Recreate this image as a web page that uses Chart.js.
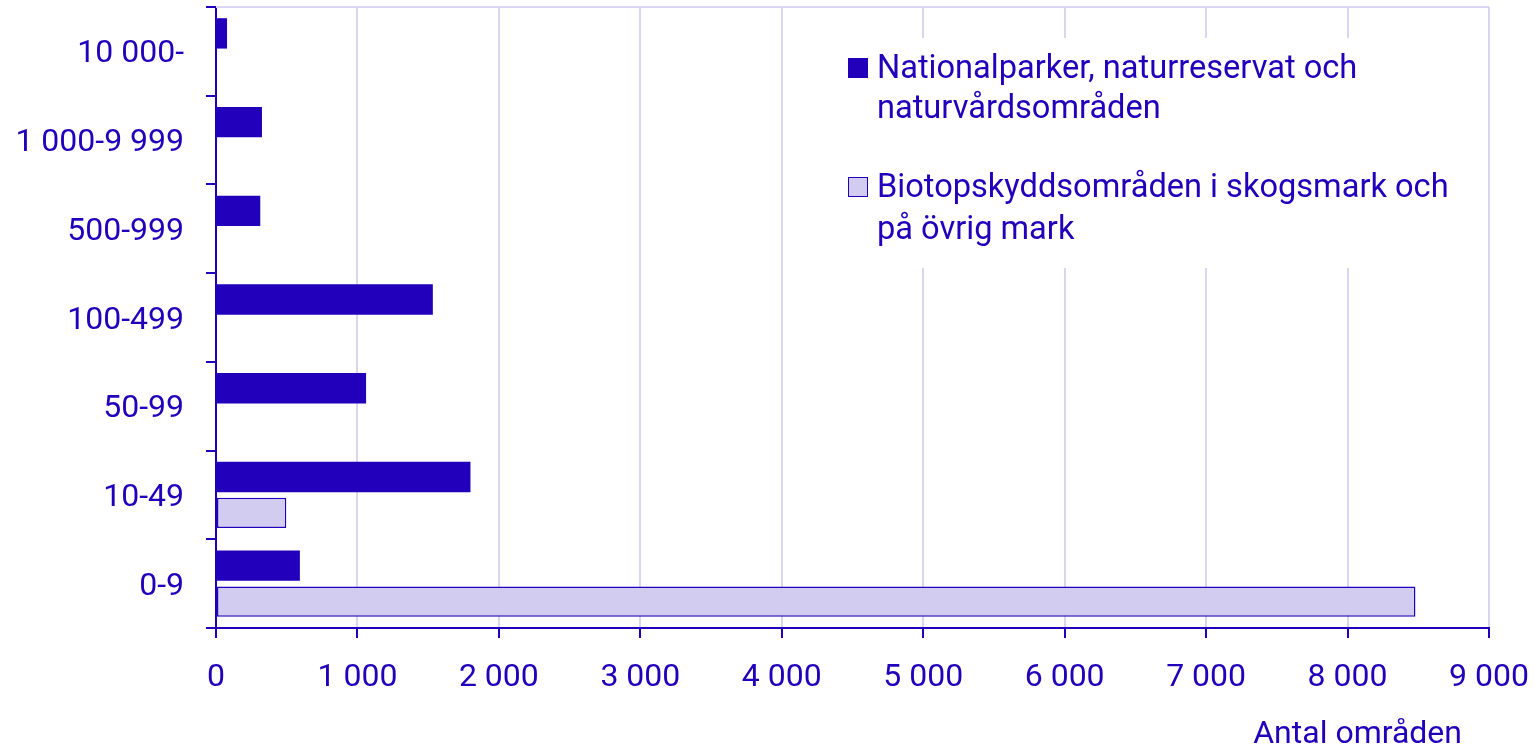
<!DOCTYPE html>
<html>
<head>
<meta charset="utf-8">
<script src="https://cdn.jsdelivr.net/npm/chart.js@4/dist/chart.umd.min.js"></script>
<style>
  html, body { margin: 0; padding: 0; background: #ffffff; }
  #wrap { width: 1534px; height: 749px; position: relative; }
</style>
</head>
<body>
<div id="wrap"><canvas id="c" width="1534" height="749"></canvas></div>
<script>
const categories = ['10 000-', '1 000-9 999', '500-999', '100-499', '50-99', '10-49', '0-9'];
const nationalparker = [78, 325, 313, 1533, 1061, 1799, 593];
const biotopskydd = [null, null, null, null, null, 497, 8480];
const legendLines1 = ['Nationalparker, naturreservat och', 'naturvårdsområden'];
const legendLines2 = ['Biotopskyddsområden i skogsmark och', 'på övrig mark'];
const xTitle = 'Antal områden';
const xMin = 0, xMax = 9000, xStep = 1000;

const DARK = '#2200bb';
const LIGHT = '#d2cdf0';
const GRID = '#d9d6f2';
const FONT = 'Roboto';
const FS = 32;

function fmt(v) {
  return String(v).replace(/\B(?=(\d{3})+(?!\d))/g, ' ');
}

const extras = {
  id: 'extras',
  beforeDatasetsDraw(chart) {
    const { ctx, chartArea } = chart;
    ctx.save();
    ctx.strokeStyle = GRID;
    ctx.lineWidth = 2;
    ctx.beginPath();
    ctx.moveTo(chartArea.left, chartArea.top);
    ctx.lineTo(chartArea.right, chartArea.top);
    ctx.stroke();
    ctx.restore();
  },
  afterDatasetsDraw(chart) {
    const { ctx } = chart;
    ctx.save();
    // legend background
    ctx.fillStyle = '#ffffff';
    ctx.fillRect(800, 38, 680, 230);
    ctx.font = '32.6px ' + FONT;
    ctx.textBaseline = 'middle';
    ctx.textAlign = 'left';
    ctx.fillStyle = DARK;
    // item 1
    ctx.fillRect(848, 58, 20, 20);
    ctx.fillText(legendLines1[0], 877, 70);
    ctx.fillText(legendLines1[1], 877, 110);
    // item 2
    ctx.fillStyle = LIGHT;
    ctx.fillRect(848.5, 177.5, 19, 19);
    ctx.strokeStyle = DARK;
    ctx.lineWidth = 1;
    ctx.strokeRect(848.5, 177.5, 19, 19);
    ctx.fillStyle = DARK;
    ctx.fillText(legendLines2[0], 877, 189);
    ctx.fillText(legendLines2[1], 877, 231);
    // x axis title
    ctx.font = FS + 'px ' + FONT;
    ctx.textAlign = 'right';
    ctx.fillText(xTitle, 1462, 735);
    ctx.restore();
  }
};

new Chart(document.getElementById('c'), {
  type: 'bar',
  data: {
    labels: categories,
    datasets: [
      {
        label: legendLines1.join(' '),
        data: nationalparker,
        backgroundColor: DARK,
        borderColor: DARK,
        borderWidth: 0,
        categoryPercentage: 0.81,
        barPercentage: 0.845
      },
      {
        label: legendLines2.join(' '),
        data: biotopskydd,
        backgroundColor: LIGHT,
        borderColor: DARK,
        borderWidth: 1.5,
        borderSkipped: false,
        categoryPercentage: 0.81,
        barPercentage: 0.845
      }
    ]
  },
  options: {
    indexAxis: 'y',
    responsive: false,
    animation: false,
    devicePixelRatio: 1,
    layout: { padding: { top: 7, right: 45, left: 0, bottom: 0 } },
    plugins: {
      legend: { display: false },
      tooltip: { enabled: false },
      title: { display: false }
    },
    scales: {
      x: {
        min: xMin,
        max: xMax,
        afterFit(scale) {
          scale.height = 121;
          scale.paddingLeft = 0; scale.paddingRight = 0;
          scale.paddingTop = 0; scale.paddingBottom = 0;
        },
        ticks: {
          stepSize: xStep,
          color: DARK,
          font: { family: FONT, size: FS },
          padding: 21,
          maxRotation: 0,
          callback: (v) => fmt(v)
        },
        grid: {
          color: GRID,
          lineWidth: 2,
          drawTicks: true,
          tickLength: 10,
          tickColor: DARK,
          tickWidth: 2
        },
        border: { display: true, color: DARK, width: 2 }
      },
      y: {
        afterFit(scale) {
          scale.width = 216;
          scale.paddingLeft = 0; scale.paddingRight = 0;
          scale.paddingTop = 0; scale.paddingBottom = 0;
        },
        ticks: {
          color: DARK,
          font: { family: FONT, size: FS },
          padding: 22,
          labelOffset: 3
        },
        grid: {
          offset: true,
          drawOnChartArea: false,
          drawTicks: true,
          tickLength: 10,
          tickColor: DARK,
          tickWidth: 2,
          lineWidth: 2
        },
        border: { display: true, color: DARK, width: 2 }
      }
    }
  },
  plugins: [extras]
});
</script>
</body>
</html>
